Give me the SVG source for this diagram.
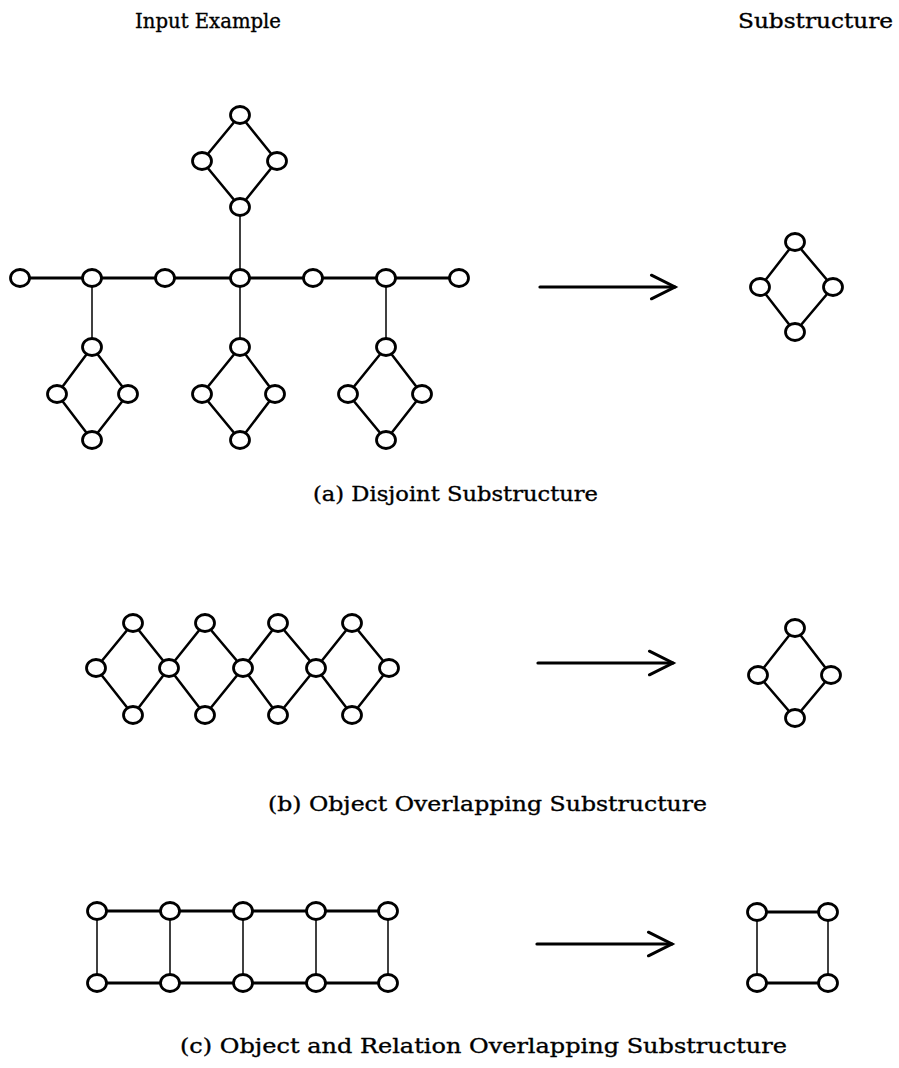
<svg xmlns="http://www.w3.org/2000/svg" width="899" height="1068" viewBox="0 0 899 1068">
<defs>
<style>
.n{fill:#fff;stroke:#000;stroke-width:2.8}
.e{stroke:#000;stroke-width:2.5;fill:none;stroke-linecap:round}
.t{stroke:#000;stroke-width:3.2;fill:none;stroke-linecap:round}
.v{stroke:#000;stroke-width:1.5;fill:none}
.a{stroke:#000;stroke-width:3.2;fill:none;stroke-linecap:round}
.lbl{font-family:"DejaVu Serif","Liberation Serif",serif;font-size:20px;fill:#000;stroke:#000;stroke-width:0.35}
</style>
<marker id="ah" markerUnits="userSpaceOnUse" markerWidth="30" markerHeight="30" viewBox="-24 -13 28 26" refX="0" refY="0" orient="auto">
<path d="M-22,-11 L0,0 L-22,11" fill="none" stroke="#000" stroke-width="2.8" stroke-linecap="round" stroke-linejoin="miter"/>
</marker>
</defs>
<rect width="899" height="1068" fill="#fff"/>

<g id="headers">
<text class="lbl" x="135" y="28" textLength="146" lengthAdjust="spacingAndGlyphs">Input Example</text>
<text class="lbl" x="738" y="28" textLength="155" lengthAdjust="spacingAndGlyphs">Substructure</text>
</g>

<g id="connectors">
<path class="e" d="M240,115 L202,161 L240,207 L277,161 Z"/>
<line class="v" x1="240" y1="207" x2="240" y2="278"/>
<line class="t" x1="20" y1="278" x2="459" y2="278"/>
<line class="v" x1="92" y1="278" x2="92" y2="347"/>
<line class="v" x1="240" y1="278" x2="240" y2="347"/>
<line class="v" x1="386" y1="278" x2="386" y2="347"/>
<path class="e" d="M92,347 L57,394 L92,440 L128,394 Z"/>
<path class="e" d="M240,347 L202,394 L240,440 L275,394 Z"/>
<path class="e" d="M386,347 L348,394 L386,440 L422,394 Z"/>
<line class="a" x1="540" y1="287" x2="675" y2="287" marker-end="url(#ah)"/>
<path class="e" d="M795,242 L760,287 L795,332 L833,287 Z"/>
<path class="e" d="M96,668 L133,623 L169,668 L133,715 Z"/>
<path class="e" d="M169,668 L205,623 L243,668 L205,715 Z"/>
<path class="e" d="M243,668 L278,623 L316,668 L278,715 Z"/>
<path class="e" d="M316,668 L352,623 L389,668 L352,715 Z"/>
<line class="a" x1="538" y1="663" x2="673" y2="663" marker-end="url(#ah)"/>
<path class="e" d="M795,628 L758,675 L795,718 L831,675 Z"/>
<line class="t" x1="97" y1="911" x2="388" y2="911"/>
<line class="t" x1="97" y1="983" x2="388" y2="983"/>
<line class="v" x1="97" y1="911" x2="97" y2="983"/>
<line class="v" x1="170" y1="911" x2="170" y2="983"/>
<line class="v" x1="243" y1="911" x2="243" y2="983"/>
<line class="v" x1="316" y1="911" x2="316" y2="983"/>
<line class="v" x1="388" y1="911" x2="388" y2="983"/>
<line class="a" x1="537" y1="944" x2="672" y2="944" marker-end="url(#ah)"/>
<line class="t" x1="757" y1="912" x2="828" y2="912"/>
<line class="t" x1="757" y1="983" x2="828" y2="983"/>
<line class="v" x1="757" y1="912" x2="757" y2="983"/>
<line class="v" x1="828" y1="912" x2="828" y2="983"/>
</g>

<g id="nodes-a">
<g id="a-top"><ellipse class="n" cx="240" cy="115" rx="9.5" ry="8.5"/><ellipse class="n" cx="202" cy="161" rx="9.5" ry="8.5"/><ellipse class="n" cx="277" cy="161" rx="9.5" ry="8.5"/><ellipse class="n" cx="240" cy="207" rx="9.5" ry="8.5"/></g>
<g id="a-chain"><ellipse class="n" cx="20" cy="278" rx="9.5" ry="8.5"/><ellipse class="n" cx="92" cy="278" rx="9.5" ry="8.5"/><ellipse class="n" cx="165" cy="278" rx="9.5" ry="8.5"/><ellipse class="n" cx="240" cy="278" rx="9.5" ry="8.5"/><ellipse class="n" cx="313" cy="278" rx="9.5" ry="8.5"/><ellipse class="n" cx="386" cy="278" rx="9.5" ry="8.5"/><ellipse class="n" cx="459" cy="278" rx="9.5" ry="8.5"/></g>
<g id="a-d1"><ellipse class="n" cx="92" cy="347" rx="9.5" ry="8.5"/><ellipse class="n" cx="57" cy="394" rx="9.5" ry="8.5"/><ellipse class="n" cx="128" cy="394" rx="9.5" ry="8.5"/><ellipse class="n" cx="92" cy="440" rx="9.5" ry="8.5"/></g>
<g id="a-d2"><ellipse class="n" cx="240" cy="347" rx="9.5" ry="8.5"/><ellipse class="n" cx="202" cy="394" rx="9.5" ry="8.5"/><ellipse class="n" cx="275" cy="394" rx="9.5" ry="8.5"/><ellipse class="n" cx="240" cy="440" rx="9.5" ry="8.5"/></g>
<g id="a-d3"><ellipse class="n" cx="386" cy="347" rx="9.5" ry="8.5"/><ellipse class="n" cx="348" cy="394" rx="9.5" ry="8.5"/><ellipse class="n" cx="422" cy="394" rx="9.5" ry="8.5"/><ellipse class="n" cx="386" cy="440" rx="9.5" ry="8.5"/></g>
<g id="a-sub"><ellipse class="n" cx="795" cy="242" rx="9.5" ry="8.5"/><ellipse class="n" cx="760" cy="287" rx="9.5" ry="8.5"/><ellipse class="n" cx="833" cy="287" rx="9.5" ry="8.5"/><ellipse class="n" cx="795" cy="332" rx="9.5" ry="8.5"/></g>
</g>

<g id="nodes-b">
<g id="b-top"><ellipse class="n" cx="133" cy="623" rx="9.5" ry="8.5"/><ellipse class="n" cx="205" cy="623" rx="9.5" ry="8.5"/><ellipse class="n" cx="278" cy="623" rx="9.5" ry="8.5"/><ellipse class="n" cx="352" cy="623" rx="9.5" ry="8.5"/></g>
<g id="b-mid"><ellipse class="n" cx="96" cy="668" rx="9.5" ry="8.5"/><ellipse class="n" cx="169" cy="668" rx="9.5" ry="8.5"/><ellipse class="n" cx="243" cy="668" rx="9.5" ry="8.5"/><ellipse class="n" cx="316" cy="668" rx="9.5" ry="8.5"/><ellipse class="n" cx="389" cy="668" rx="9.5" ry="8.5"/></g>
<g id="b-bot"><ellipse class="n" cx="133" cy="715" rx="9.5" ry="8.5"/><ellipse class="n" cx="205" cy="715" rx="9.5" ry="8.5"/><ellipse class="n" cx="278" cy="715" rx="9.5" ry="8.5"/><ellipse class="n" cx="352" cy="715" rx="9.5" ry="8.5"/></g>
<g id="b-sub"><ellipse class="n" cx="795" cy="628" rx="9.5" ry="8.5"/><ellipse class="n" cx="758" cy="675" rx="9.5" ry="8.5"/><ellipse class="n" cx="831" cy="675" rx="9.5" ry="8.5"/><ellipse class="n" cx="795" cy="718" rx="9.5" ry="8.5"/></g>
</g>

<g id="nodes-c">
<g id="c-top"><ellipse class="n" cx="97" cy="911" rx="9.5" ry="8.5"/><ellipse class="n" cx="170" cy="911" rx="9.5" ry="8.5"/><ellipse class="n" cx="243" cy="911" rx="9.5" ry="8.5"/><ellipse class="n" cx="316" cy="911" rx="9.5" ry="8.5"/><ellipse class="n" cx="388" cy="911" rx="9.5" ry="8.5"/></g>
<g id="c-bot"><ellipse class="n" cx="97" cy="983" rx="9.5" ry="8.5"/><ellipse class="n" cx="170" cy="983" rx="9.5" ry="8.5"/><ellipse class="n" cx="243" cy="983" rx="9.5" ry="8.5"/><ellipse class="n" cx="316" cy="983" rx="9.5" ry="8.5"/><ellipse class="n" cx="388" cy="983" rx="9.5" ry="8.5"/></g>
<g id="c-sub"><ellipse class="n" cx="757" cy="912" rx="9.5" ry="8.5"/><ellipse class="n" cx="828" cy="912" rx="9.5" ry="8.5"/><ellipse class="n" cx="757" cy="983" rx="9.5" ry="8.5"/><ellipse class="n" cx="828" cy="983" rx="9.5" ry="8.5"/></g>
</g>

<g id="captions">
<text class="lbl" x="313" y="501" textLength="285" lengthAdjust="spacingAndGlyphs">(a) Disjoint Substructure</text>
<text class="lbl" x="268" y="811" textLength="439" lengthAdjust="spacingAndGlyphs">(b) Object Overlapping Substructure</text>
<text class="lbl" x="180" y="1053" textLength="607" lengthAdjust="spacingAndGlyphs">(c) Object and Relation Overlapping Substructure</text>
</g>
</svg>
